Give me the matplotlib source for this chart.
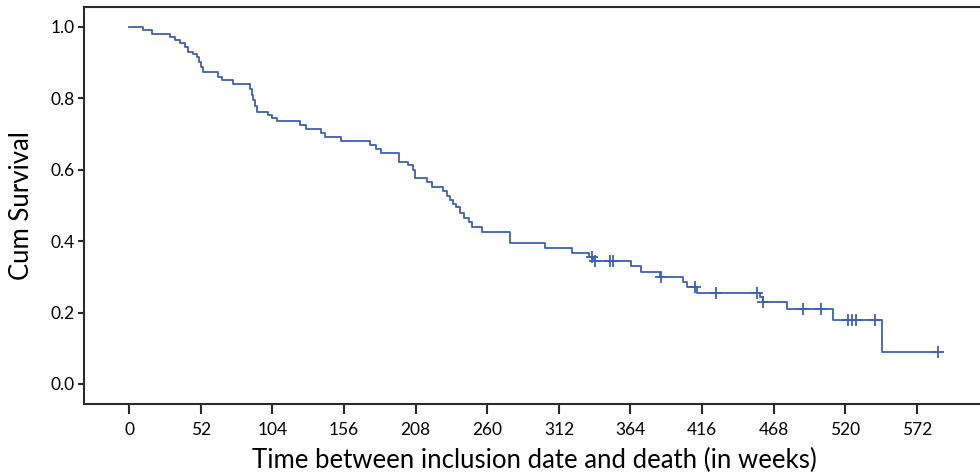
import numpy as np
import matplotlib
matplotlib.use("Agg")
import matplotlib.pyplot as plt

plt.rcParams['font.family'] = ['Lato', 'DejaVu Sans']

# Kaplan-Meier steps: time (weeks) where survival drops, and survival after the drop
step_weeks = [0, 9.7, 16.3, 29.6, 33.2, 36.8, 40.5, 42.9, 46, 49, 50.6, 51.8, 53.3,
              64.6, 67.1, 75.5, 87.5, 89, 90, 91.5, 92.8, 101, 104, 107.4, 124, 128,
              139, 142.5, 154, 174.8, 179, 182.5, 196, 202.6, 205.7, 207.4, 216, 220,
              228, 231, 233, 235, 237, 240, 243, 246.5, 249, 256, 276.5, 302, 321.3,
              334, 337, 364.6, 372, 385.5, 402, 405, 412.5, 458, 460, 477.8, 510.8, 547]
step_surv = [1.0, 0.992, 0.980, 0.971, 0.964, 0.956, 0.945, 0.931, 0.924, 0.917, 0.903,
             0.889, 0.875, 0.861, 0.852, 0.840, 0.826, 0.810, 0.795, 0.780, 0.762, 0.754,
             0.746, 0.737, 0.725, 0.713, 0.702, 0.691, 0.680, 0.670, 0.658, 0.646, 0.623,
             0.613, 0.599, 0.576, 0.567, 0.553, 0.541, 0.527, 0.516, 0.504, 0.495, 0.478,
             0.464, 0.455, 0.441, 0.427, 0.394, 0.380, 0.368, 0.356, 0.344, 0.331, 0.315,
             0.301, 0.287, 0.273, 0.254, 0.243, 0.231, 0.210, 0.178, 0.090]
last_week = 587.5

# censored observations (weeks)
censor_weeks = [335.7, 338, 349.2, 351.6, 386.2, 410.5, 426, 455.6, 460.5,
                489.5, 502.5, 521.7, 524.6, 527.5, 541.6, 587.5]

x_ticks = [0, 52, 104, 156, 208, 260, 312, 364, 416, 468, 520, 572]
y_ticks = [0.0, 0.2, 0.4, 0.6, 0.8, 1.0]

line_color = '#3b60b6'
axis_color = '#2b2b2b'

fig = plt.figure(figsize=(9.8, 4.76), dpi=100)
ax = fig.add_axes([0.0857, 0.1513, 0.9193, 0.834])

t = np.array(step_weeks + [last_week])
s = np.array(step_surv + [step_surv[-1]])
ax.step(t, s, where='post', color=line_color, lw=1.3)

# survival value at each censored time
idx = np.searchsorted(np.array(step_weeks), censor_weeks, side='right') - 1
censor_surv = np.array(step_surv)[idx]
ax.plot(censor_weeks, censor_surv, '+', color=line_color, ms=9, mew=1.3)

ax.set_xlim(-32.9, 621.4)
ax.set_ylim(-0.056, 1.056)
ax.set_xticks(x_ticks)
ax.set_yticks(y_ticks)
ax.set_yticklabels([f"{v:.1f}" for v in y_ticks])

for sp in ax.spines.values():
    sp.set_color(axis_color)
    sp.set_linewidth(1.5)
ax.tick_params(axis='x', length=7, width=1.5, color=axis_color, labelsize=12.5, pad=6)
ax.tick_params(axis='y', length=4.5, width=1.5, color=axis_color, labelsize=12.5, pad=2)

ax.set_xlabel("Time between inclusion date and death (in weeks)", fontsize=18.5, labelpad=7)
ax.set_ylabel("Cum Survival", fontsize=18.5, labelpad=12)

fig.savefig("out.png", dpi=100)
